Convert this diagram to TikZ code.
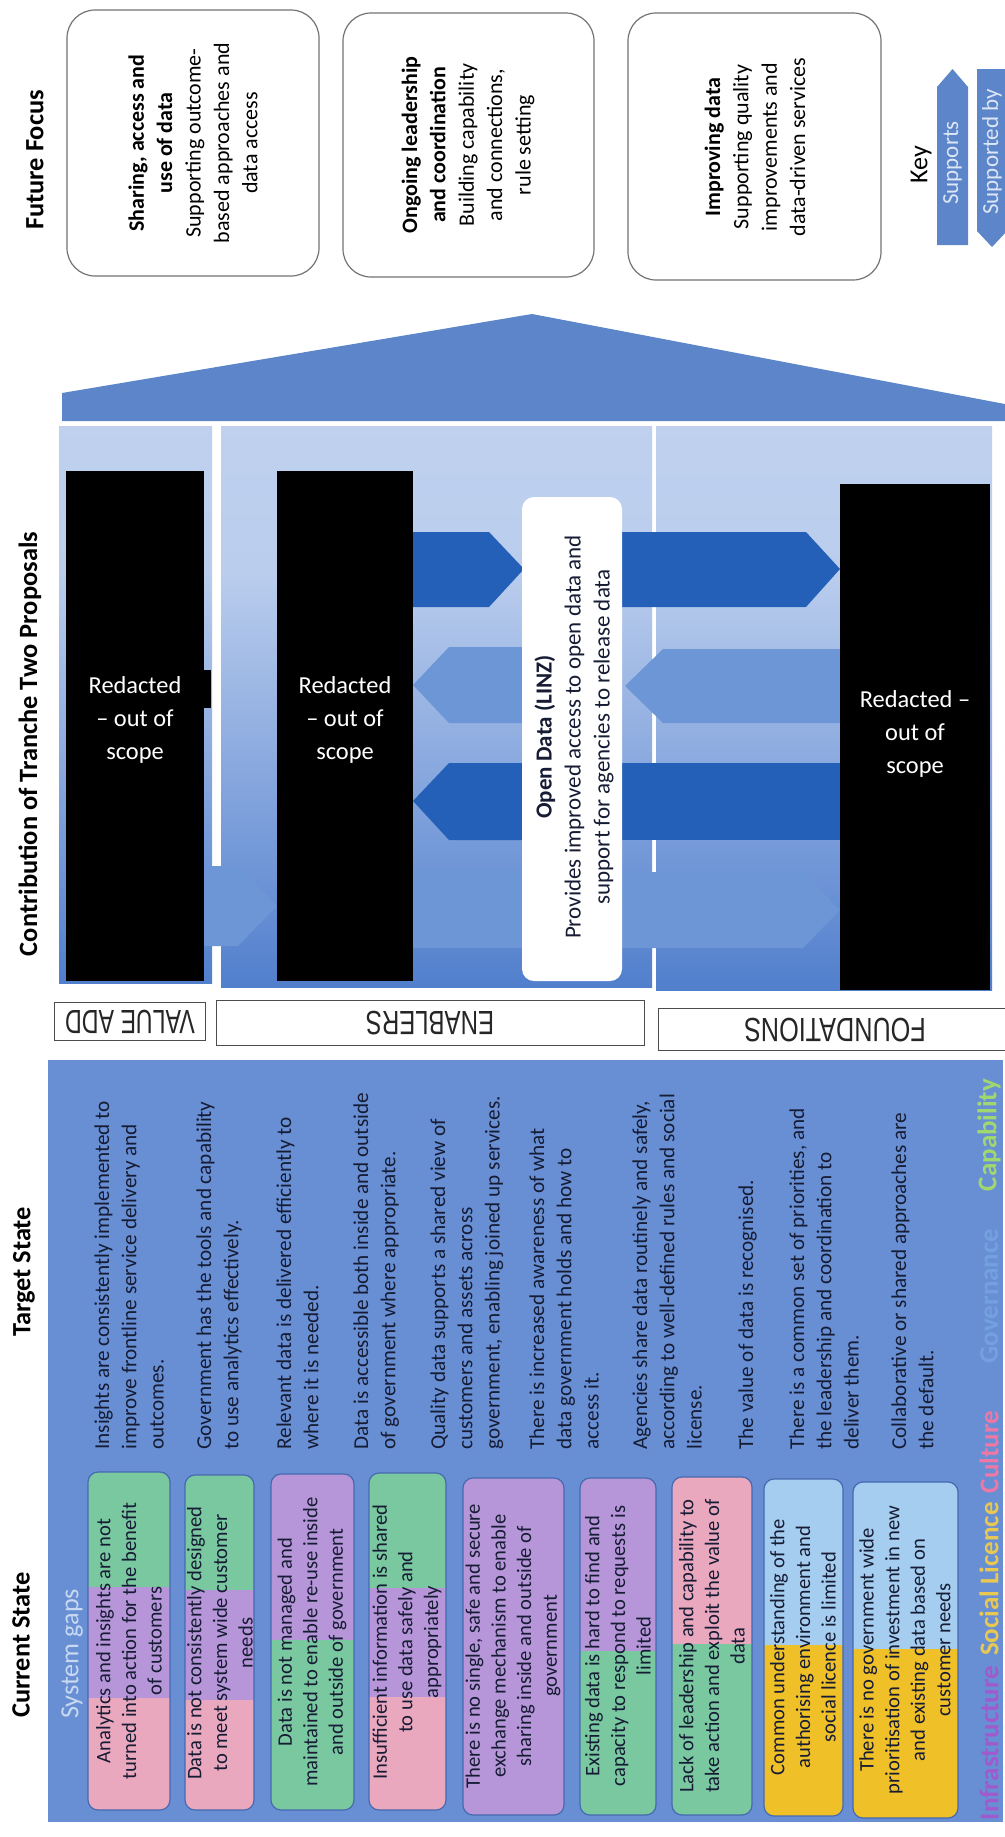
\documentclass[tikz,border=0pt]{standalone}
\usepackage{fontspec}
\usepackage{graphicx}
\setmainfont{Carlito}
\newfontfamily\labfont{Liberation Sans}
\newcommand\myfs[2]{\fontsize{#1}{#2}\selectfont}
\definecolor{panelblue}{RGB}{104,143,212}
\definecolor{roofblue}{RGB}{92,133,202}
\definecolor{darkarrow}{RGB}{36,96,184}
\definecolor{lightarrow}{RGB}{108,150,214}
\definecolor{gpink}{RGB}{234,168,190}
\definecolor{gpurple}{RGB}{182,150,216}
\definecolor{ggreen}{RGB}{122,200,160}
\definecolor{gltblue}{RGB}{165,205,240}
\definecolor{gyellow}{RGB}{240,192,40}
\definecolor{gborder}{RGB}{70,105,175}
\definecolor{txtdark}{RGB}{22,28,52}
\definecolor{leginfra}{RGB}{160,90,205}
\definecolor{legsocial}{RGB}{232,200,80}
\definecolor{legculture}{RGB}{238,120,165}
\definecolor{legfaded}{RGB}{116,160,224}
\definecolor{legcap}{RGB}{160,215,110}
\definecolor{shlight}{RGB}{200,216,240}
\definecolor{shlighttwo}{RGB}{186,205,237}
\definecolor{shmid}{RGB}{96,138,210}
\definecolor{shdark}{RGB}{26,86,180}
\definecolor{keytext}{RGB}{220,230,245}
\pgfdeclareverticalshading{panelshade}{100bp}{color(0bp)=(shdark); color(7bp)=(shdark); color(30bp)=(shmid); color(62bp)=(shlighttwo); color(100bp)=(shlight)}
\tikzset{
  hdr/.style={rotate=90, font=\myfs{13.2}{15}\bfseries, text=black, inner sep=0},
  ffbox/.style={draw=black!55, line width=0.6pt, fill=white, rounded corners=14pt},
  fftext/.style={rotate=90, align=center, font=\myfs{11}{14.2}, text=black, inner sep=0},
  redtext/.style={text=white, align=center, font=\myfs{12.2}{16.5}, inner sep=0},
  odtext/.style={rotate=90, align=center, font=\myfs{11.5}{14.5}, text=txtdark, inner sep=0},
  tstext/.style={rotate=90, anchor=north west, align=left, font=\myfs{10.6}{13.6}, text=txtdark, inner sep=0},
  gaptext/.style={rotate=90, align=center, font=\myfs{10.3}{12.8}, text=txtdark, inner sep=0},
  gapframe/.style={draw=gborder, line width=0.6pt, rounded corners=5pt},
  labbox/.style={draw=black!70, line width=0.5pt, fill=white},
  labtext/.style={rotate=180, font=\labfont\myfs{16.8}{18}, text=black!85, inner sep=0},
  legend/.style={rotate=90, font=\myfs{13.5}{15}\bfseries, inner sep=0},
  keyarrow/.style={fill=roofblue},
  keytxt/.style={rotate=90, font=\myfs{11.5}{13}, text=keytext, inner sep=0},
}
\begin{document}
\begin{tikzpicture}[x=0.5pt,y=-0.5pt]
\useasboundingbox (0,0) rectangle (1005,1837);
\fill[white] (0,0) rectangle (1005,1837);

% ---------- headers ----------
\node[hdr] (hff) at (35,160) {Future Focus};
\node[hdr] (hct) at (30,744) {Contribution of Tranche Two Proposals};
\node[hdr] (hts) at (24,1272) {Target State};
\node[hdr] (hcs) at (21,1645) {Current State};

% ---------- future focus boxes ----------
\draw[ffbox] (67,10) rectangle (319,276);
\node[fftext] (ff1) at (193,143) {\textbf{Sharing, access and}\\\textbf{use of data}\\Supporting outcome-\\based approaches and\\data access};
\draw[ffbox] (343,13) rectangle (594,277);
\node[fftext] (ff2) at (468,145) {\textbf{Ongoing leadership}\\\textbf{and coordination}\\Building capability\\and connections,\\rule setting};
\draw[ffbox] (628,13) rectangle (881,280);
\node[fftext] (ff3) at (755,147) {\textbf{Improving data}\\Supporting quality\\improvements and\\data-driven services};

% ---------- key ----------
\node[rotate=90, font=\myfs{13}{15}, inner sep=0] (key) at (921,165) {Key};
\fill[keyarrow] (937,245) -- (937,87) -- (952.5,69) -- (968,87) -- (968,245) -- cycle;
\node[keytxt] (ksup) at (952.5,163) {Supports};
\fill[keyarrow] (977,69) -- (1007,69) -- (1007,231) -- (992,247) -- (977,231) -- cycle;
\node[keytxt] (ksby) at (992,152) {Supported by};

% ---------- roof ----------
\fill[roofblue] (62,421) -- (62,393) -- (532,314) -- (1010,405) -- (1010,421) -- cycle;

% ---------- panels ----------
\shade[shading=panelshade] (59,426) rectangle (212,983);
\shade[shading=panelshade] (221,426) rectangle (652,987);
\shade[shading=panelshade] (656,426) rectangle (992,990);

% ---------- arrows ----------
\fill[lightarrow] (200,866) -- (238,866) -- (277,906) -- (238,946) -- (200,946) -- cycle;
\fill[darkarrow] (413,532) -- (489,532) -- (524,569) -- (489,607) -- (413,607) -- cycle;
\fill[lightarrow] (524,647) -- (449,647) -- (413,685) -- (449,723) -- (524,723) -- cycle;
\fill[darkarrow] (524,763) -- (449,763) -- (413,801) -- (449,840) -- (524,840) -- cycle;
\fill[lightarrow] (413,870) rectangle (524,948);
\fill[darkarrow] (620,532) -- (806,532) -- (840,569) -- (806,607) -- (620,607) -- cycle;
\fill[lightarrow] (840,649) -- (663,649) -- (625,686) -- (663,723) -- (840,723) -- cycle;
\fill[darkarrow] (620,763) rectangle (840,840);
\fill[lightarrow] (620,872) -- (803,872) -- (840,910) -- (803,948) -- (620,948) -- cycle;

% ---------- redactions ----------
\fill[black] (66,471) rectangle (204,981);
\fill[black] (203,670) rectangle (211,708);
\node[redtext] (r1) at (135,720) {Redacted\\– out of\\scope};
\fill[black] (277,471) rectangle (413,981);
\node[redtext] (r2) at (345,720) {Redacted\\– out of\\scope};
\fill[black] (840,484) rectangle (990,990);
\node[redtext] (r3) at (915,734) {Redacted –\\out of\\scope};

% ---------- open data ----------
\fill[white, rounded corners=6pt] (522,497) rectangle (622,981);
\node[odtext] (od) at (574,737) {\textbf{Open Data (LINZ)}\\Provides improved access to open data and\\support for agencies to release data};

% ---------- layer labels ----------
\draw[labbox] (54,1002) rectangle (205,1040);
\node[labtext] (lva) at (130,1022) {\scalebox{0.69}[1]{VALUE ADD}};
\draw[labbox] (216,1000) rectangle (644,1045);
\node[labtext] (len) at (430,1023) {\scalebox{0.715}[1]{ENABLERS}};
\draw[labbox] (658,1008) rectangle (1010,1050);
\node[labtext] (lfo) at (835,1030) {\scalebox{0.75}[1]{FOUNDATIONS}};

% ---------- state panel ----------
\fill[panelblue] (48,1060) rectangle (1003,1822);
\node[rotate=90, font=\myfs{13.1}{15}, text=shlight, inner sep=0] (sg) at (72,1654) {System gaps};

% target state
\node[tstext] (ts1) at (94,1450) {Insights are consistently implemented to\\improve frontline service delivery and\\outcomes.};
\node[tstext] (ts2) at (196,1450) {Government has the tools and capability\\to use analytics effectively.};
\node[tstext] (ts3) at (276,1450) {Relevant data is delivered efficiently to\\where it is needed.};
\node[tstext] (ts4) at (353,1450) {Data is accessible both inside and outside\\of government where appropriate.};
\node[tstext] (ts5) at (430,1450) {Quality data supports a shared view of\\customers and assets across\\government, enabling joined up services.};
\node[tstext] (ts6) at (529,1450) {There is increased awareness of what\\data government holds and how to\\access it.};
\node[tstext] (ts7) at (632,1450) {Agencies share data routinely and safely,\\according to well-defined rules and social\\license.};
\node[tstext] (ts8) at (738,1450) {The value of data is recognised.};
\node[tstext] (ts9) at (789,1450) {There is a common set of priorities, and\\the leadership and coordination to\\deliver them.};
\node[tstext] (ts10) at (891,1450) {Collaborative or shared approaches are\\the default.};

% system gap boxes
\begin{scope}
\clip[rounded corners=5pt] (88,1472) rectangle (170,1810);
\fill[ggreen] (88,1472) rectangle (170,1587);
\fill[gpurple] (88,1587) rectangle (170,1698);
\fill[gpink] (88,1698) rectangle (170,1810);
\end{scope}
\draw[gapframe] (88,1472) rectangle (170,1810);
\node[gaptext] (g1) at (129,1641) {Analytics and insights are not\\turned into action for the benefit\\of customers};

\begin{scope}
\clip[rounded corners=5pt] (185,1475) rectangle (254,1810);
\fill[ggreen] (185,1475) rectangle (254,1590);
\fill[gpurple] (185,1590) rectangle (254,1700);
\fill[gpink] (185,1700) rectangle (254,1810);
\end{scope}
\draw[gapframe] (185,1475) rectangle (254,1810);
\node[gaptext] (g2) at (220,1643) {Data is not consistently designed\\to meet system wide customer\\needs};

\begin{scope}
\clip[rounded corners=5pt] (271,1474) rectangle (354,1810);
\fill[gpurple] (271,1474) rectangle (354,1640);
\fill[ggreen] (271,1640) rectangle (354,1810);
\end{scope}
\draw[gapframe] (271,1474) rectangle (354,1810);
\node[gaptext] (g3) at (312,1642) {Data is not managed and\\maintained to enable re-use inside\\and outside of government};

\begin{scope}
\clip[rounded corners=5pt] (369,1473) rectangle (446,1810);
\fill[ggreen] (369,1473) rectangle (446,1588);
\fill[gpurple] (369,1588) rectangle (446,1697);
\fill[gpink] (369,1697) rectangle (446,1810);
\end{scope}
\draw[gapframe] (369,1473) rectangle (446,1810);
\node[gaptext] (g4) at (407,1642) {Insufficient information is shared\\to use data safely and\\appropriately};

\begin{scope}
\clip[rounded corners=5pt] (463,1478) rectangle (564,1815);
\fill[gpurple] (463,1478) rectangle (564,1815);
\end{scope}
\draw[gapframe] (463,1478) rectangle (564,1815);
\node[gaptext] (g5) at (513,1646) {There is no single, safe and secure\\exchange mechanism to enable\\sharing inside and outside of\\government};

\begin{scope}
\clip[rounded corners=5pt] (580,1478) rectangle (656,1815);
\fill[gpurple] (580,1478) rectangle (656,1651);
\fill[ggreen] (580,1651) rectangle (656,1815);
\end{scope}
\draw[gapframe] (580,1478) rectangle (656,1815);
\node[gaptext] (g6) at (618,1646) {Existing data is hard to find and\\capacity to respond to requests is\\limited};

\begin{scope}
\clip[rounded corners=5pt] (672,1477) rectangle (752,1815);
\fill[gpink] (672,1477) rectangle (752,1644);
\fill[ggreen] (672,1644) rectangle (752,1815);
\end{scope}
\draw[gapframe] (672,1477) rectangle (752,1815);
\node[gaptext] (g7) at (712,1646) {Lack of leadership and capability to\\take action and exploit the value of\\data};

\begin{scope}
\clip[rounded corners=5pt] (764,1479) rectangle (843,1816);
\fill[gltblue] (764,1479) rectangle (843,1645);
\fill[gyellow] (764,1645) rectangle (843,1816);
\end{scope}
\draw[gapframe] (764,1479) rectangle (843,1816);
\node[gaptext] (g8) at (803,1647) {Common understanding of the\\authorising environment and\\social licence is limited};

\begin{scope}
\clip[rounded corners=5pt] (853,1482) rectangle (958,1818);
\fill[gltblue] (853,1482) rectangle (958,1649);
\fill[gyellow] (853,1649) rectangle (958,1818);
\end{scope}
\draw[gapframe] (853,1482) rectangle (958,1818);
\node[gaptext] (g9) at (905,1650) {There is no government wide\\prioritisation of investment in new\\and existing data based on\\customer needs};

% legend
\node[legend, text=leginfra] (lg1) at (989,1743) {Infrastructure};
\node[legend, text=legsocial] (lg2) at (989,1579) {Social Licence};
\node[legend, text=legculture] (lg3) at (989,1452) {Culture};
\node[legend, text=legfaded] (lg4) at (989,1296) {Governance};
\node[legend, text=legcap] (lg5) at (989,1135) {Capability};
\end{tikzpicture}
\end{document}
